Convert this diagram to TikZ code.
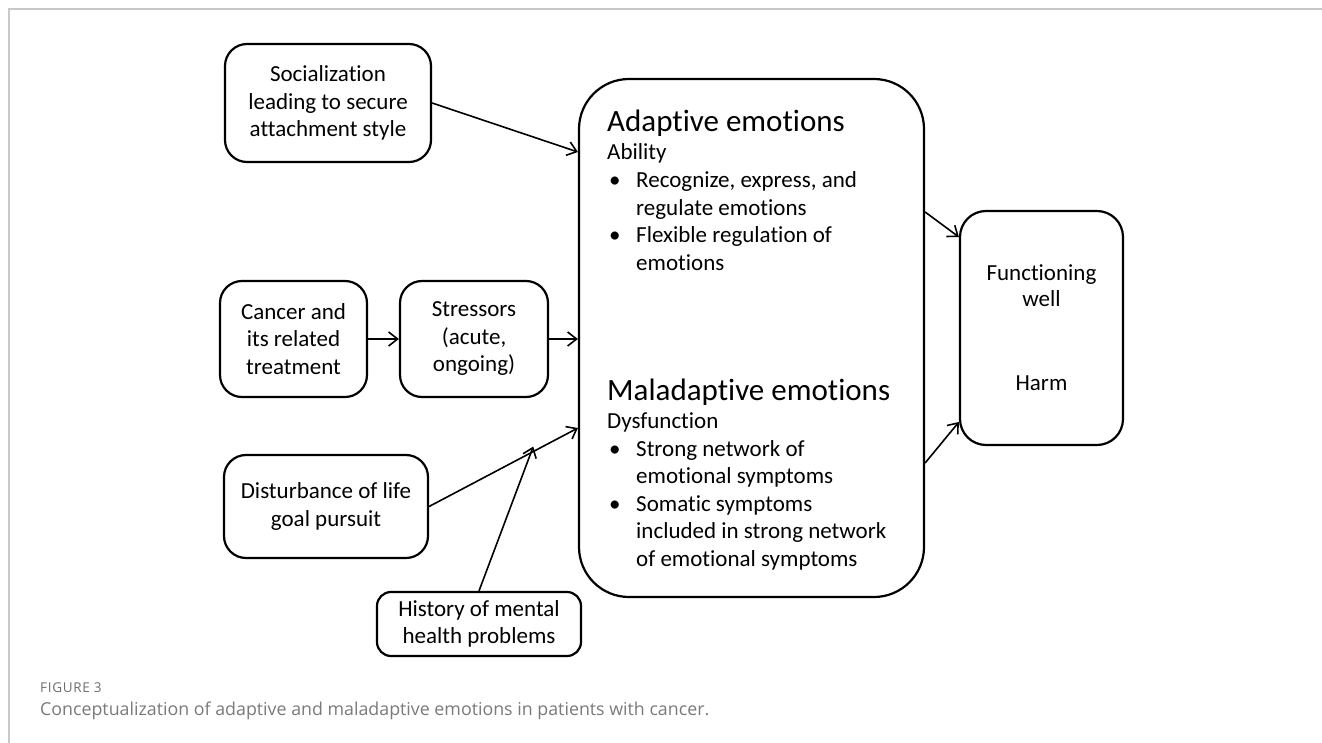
\documentclass[tikz,border=0pt]{standalone}
\usepackage{fontspec}
\setmainfont{Carlito}[Ligatures=CommonOff]
\newfontfamily\capfont{Open Sans}
\newfontfamily\figfont{Open Sans}[LetterSpace=5]
\usetikzlibrary{arrows.meta,calc}
\definecolor{framegray}{HTML}{C8C8C8}
\definecolor{capgray}{HTML}{7A7A7A}
\definecolor{figgray}{HTML}{6E6E6E}
\tikzset{
  bx/.style={draw=black, line width=2.2pt, rounded corners=22pt, align=center,
    inner sep=0pt, font=\fontsize{23}{27.5}\selectfont},
  conn/.style={line width=1.6pt, -{Straight Barb[length=9pt,width=14pt,line width=1.6pt]}},
  ln/.style={anchor=base west, inner sep=0pt, font=\fontsize{23}{27.5}\selectfont},
  ttl/.style={anchor=base west, inner sep=0pt, font=\fontsize{31}{36}\selectfont},
}
\begin{document}
\begin{tikzpicture}[x=1pt,y=-1pt]
\useasboundingbox (0,0) rectangle (1322,743);
\fill[white] (0,0) rectangle (1322,743);
% frame
\draw[framegray, line width=1.3pt] (9,743) -- (9,9) -- (1322,9);

% boxes
\node[bx, minimum width=206pt, minimum height=118pt] (soc) at (328,103)
  {Socialization\\leading to secure\\attachment style};
\node[bx, minimum width=147pt, minimum height=116pt] (can) at (293.5,339)
  {Cancer and\\its related\\treatment};
\node[bx, minimum width=148pt, minimum height=116pt] (str) at (474,339)
  {Stressors\\(acute,\\ongoing)};
\node[bx, minimum width=204pt, minimum height=103pt] (dis) at (326,506.5)
  {Disturbance of life\\goal pursuit};
\node[bx, minimum width=204pt, minimum height=64pt, rounded corners=14pt] (his) at (479,624)
  {History of mental\\health problems};
\node[bx, minimum width=345pt, minimum height=518pt, rounded corners=50pt] (emo) at (751.5,338) {};
\node[bx, minimum width=163pt, minimum height=234pt, rounded corners=26pt] (fun) at (1041.5,328) {};

% functioning texts
\node[inner sep=0pt, align=center, anchor=base, font=\fontsize{23}{26}\selectfont] (funa) at (1041.5,306) {Functioning\\well};
\node[inner sep=0pt, anchor=base, font=\fontsize{23}{26}\selectfont] (funb) at (1041.5,390) {Harm};

% adaptive text
\node[ttl] (at) at (607,132) {Adaptive emotions};
\node[ln] (a1) at (607,160) {Ability};
\node[ln] (a2b) at (609,188) {•};
\node[ln] (a2) at (636,188) {Recognize, express, and};
\node[ln] (a3) at (636,215.5) {regulate emotions};
\node[ln] (a4b) at (609,243) {•};
\node[ln] (a4) at (636,243) {Flexible regulation of};
\node[ln] (a5) at (636,270.5) {emotions};

% maladaptive text
\node[ttl] (mt) at (607,400) {Maladaptive emotions};
\node[ln] (m1) at (607,428) {Dysfunction};
\node[ln] (m2b) at (609,456) {•};
\node[ln] (m2) at (636,456) {Strong network of};
\node[ln] (m3) at (636,483.5) {emotional symptoms};
\node[ln] (m4b) at (609,511) {•};
\node[ln] (m4) at (636,511) {Somatic symptoms};
\node[ln] (m5) at (636,538.5) {included in strong network};
\node[ln] (m6) at (636,566) {of emotional symptoms};

% connectors
\draw[conn] (soc.east) -- ([yshift=186pt]emo.west);
\draw[conn] (can.east) -- (str.west);
\draw[conn] (str.east) -- ([yshift=-1pt]emo.west);
\coordinate (dend) at ([yshift=-90pt]emo.west);
\draw[conn] (dis.east) -- (dend);
\coordinate (meet) at ($(dis.east)!0.70!(dend)$);
\draw[conn] (his.north) -- ([yshift=5pt]meet);
\draw[conn] ([yshift=126pt]emo.east) -- ([yshift=91pt]fun.west);
\draw[conn] ([yshift=-125pt]emo.east) -- ([yshift=-94pt]fun.west);

% caption
\node[anchor=base west, inner sep=0pt, text=figgray, font=\figfont\fontsize{13.5}{16}\selectfont] (fig) at (40,692) {FIGURE 3};
\node[anchor=base west, inner sep=0pt, text=capgray, font=\capfont\fontsize{17.8}{21}\selectfont] (cap) at (40,715)
  {Conceptualization of adaptive and maladaptive emotions in patients with cancer.};
\end{tikzpicture}
\end{document}
